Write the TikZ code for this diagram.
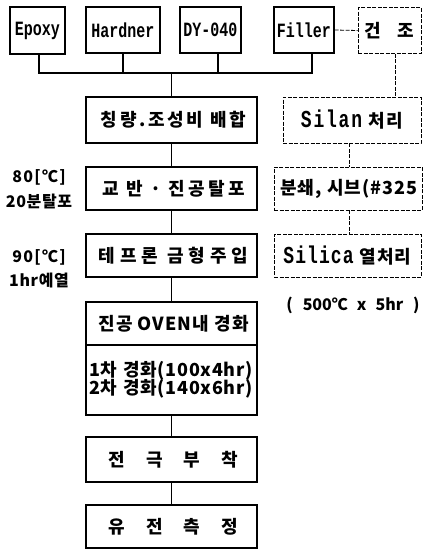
\documentclass[tikz,border=0pt]{standalone}
\usepackage{fontspec}
\usepackage{graphicx}
\newfontfamily\kr{Noto Sans CJK KR}
\newfontfamily\mono{Liberation Mono}
\newcommand{\lsp}[2]{{\addfontfeature{LetterSpace=#1}#2}}
\newcommand{\tallm}[1]{\scalebox{1}[1.35]{\mono\bfseries #1}}
\begin{document}
\begin{tikzpicture}[x=1pt,y=-1pt,
  line width=1.1pt,
  krf/.style={font=\kr\bfseries\fontsize{18}{20}\selectfont},
  monof/.style={font=\mono\bfseries\fontsize{15}{17}\selectfont},
  sbox/.style={draw, line width=1.2pt, inner sep=0pt, minimum width=171pt, minimum height=43pt, krf},
  dbox/.style={draw, line width=0.8pt, dash pattern=on 4pt off 1.5pt, inner sep=0pt, minimum height=43pt, krf},
  dline/.style={line width=0.8pt, dash pattern=on 4pt off 1.5pt},
  lbl/.style={inner sep=0pt, font=\kr\bfseries\fontsize{16}{18}\selectfont}
]
\useasboundingbox (0,0) rectangle (426,552);
% top row
\node[sbox, monof, minimum width=55pt, minimum height=47pt] (epoxy) at (37.5,30.5) {\tallm{Epoxy}};
\node[sbox, monof, minimum width=74pt, minimum height=46pt] (hardner) at (123,30) {\tallm{Hardner}};
\node[sbox, monof, minimum width=61pt, minimum height=46pt] (dy) at (210.5,30) {\tallm{DY-040}};
\node[sbox, monof, minimum width=60pt, minimum height=46pt] (filler) at (304,30) {\tallm{Filler}};
\node[dbox, minimum width=63pt, minimum height=46pt] (geonjo) at (389.5,30.5) {건\hspace{16pt}조};
% main column
\node[sbox, minimum height=46pt] (mix) at (171.5,120) {\hspace{4pt}\lsp{15}{칭량.조성비 배합}};
\node[sbox] (stir) at (171.5,188.5) {\hspace{4pt}\lsp{18}{교 반 · 진공탈포}};
\node[sbox] (mold) at (171.5,255.5) {\hspace{4pt}\lsp{27}{테프론 금형주입}};
\node[sbox] (oventop) at (171.5,323.5) {\hspace{4pt}\lsp{6}{진공 OVEN내 경화}};
\node[sbox, minimum height=70pt, text width=165pt] (ovenbot) at (171.5,380) {\lsp{4}{1차 경화(100x4hr)}\\[-2pt]\lsp{4}{2차 경화(140x6hr)}};
\node[sbox, minimum height=45pt] (elec) at (171.5,459.5) {\hspace{4pt}전\hspace{21pt}극\hspace{21pt}부\hspace{21pt}착};
\node[sbox] (meas) at (171.5,526.5) {\hspace{4pt}유\hspace{21pt}전\hspace{21pt}측\hspace{21pt}정};
% right column
\node[dbox, minimum width=138pt, minimum height=46pt] (silan) at (352,120) {\tallm{\lsp{10}{Silan}}\hspace{6pt}\lsp{10}{처리}};
\node[dbox, minimum width=148pt] (crush) at (348,188.5) {\hspace{2pt}\lsp{6}{분쇄, 시브(\#325}};
\node[dbox, minimum width=147pt] (silica) at (347.5,255.5) {\tallm{\lsp{6}{Silica}}\hspace{6pt}\lsp{6}{열처리}};
\node[lbl] (temp) at (353,305) {(\hspace{10pt}500℃\hspace{9pt}x\hspace{9pt}5hr\hspace{10pt})};
% side labels
\node[lbl] (l1) at (39,177) {\lsp{8}{80[℃]}};
\node[lbl] (l2) at (39,201) {\lsp{4}{20분탈포}};
\node[lbl] (l3) at (39,257) {\lsp{8}{90[℃]}};
\node[lbl] (l4) at (39,280) {\lsp{4}{1hr예열}};
% connectors
\coordinate (bus) at (171.5,73);
\draw ([xshift=1.5pt]epoxy.south) |- ([xshift=8pt]filler.south |- bus) -- ([xshift=8pt]filler.south);
\draw (hardner.south) -- (hardner.south |- bus);
\draw ([xshift=7.5pt]dy.south) -- ([xshift=7.5pt]dy.south |- bus);
\draw (bus) -- (mix.north);
\draw (mix) -- (stir);
\draw (stir) -- (mold);
\draw (mold) -- (oventop);
\draw (ovenbot) -- (elec);
\draw (elec) -- (meas);
\draw[dline] (filler.east) -- (geonjo.west);
\draw[dline] ([xshift=5.5pt]geonjo.south) -- ([xshift=5.5pt]geonjo.south |- silan.north);
\draw[dline] ([xshift=-3pt]silan.south) -- ([xshift=-3pt]silan.south |- crush.north);
\draw[dline] ([xshift=1pt]crush.south) -- ([xshift=1pt]crush.south |- silica.north);
\end{tikzpicture}
\end{document}
